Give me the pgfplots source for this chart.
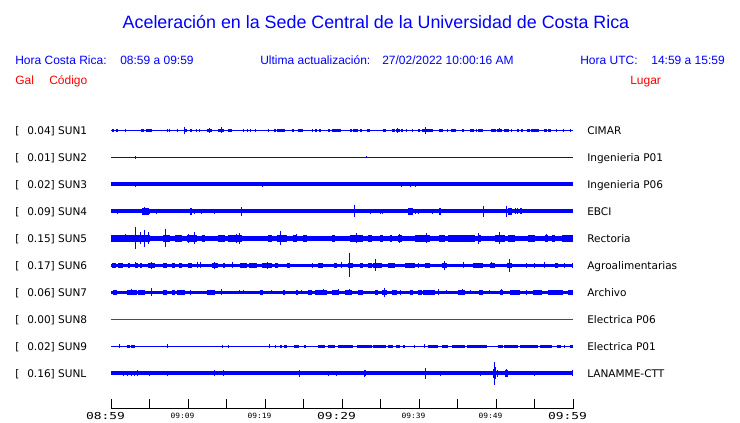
\documentclass[border=0pt]{standalone}
\usepackage{pgfplots}
\pgfplotsset{compat=1.18}
\usepackage{graphicx}
\usepackage{fontspec}
\setmainfont{Liberation Sans}
\newfontfamily\dv{DejaVu Sans}
\newfontfamily\dvm{DejaVu Sans Mono}
\definecolor{tblue}{RGB}{0,0,255}
\definecolor{tred}{RGB}{255,0,0}

\pgfplotsset{nomark/.style={only marks, mark=*, mark size=0pt, mark options={draw=none, fill=none}}}
% base band of a trace: #1 y, #2 thickness, #3 colour
\newcommand{\band}[3]{\addplot[color=#3, line width=#2, mark=none] coordinates {(0,#1) (60,#1)};}
% bursts: segments from a to b (minutes), #1 y, #2 height
\newcommand{\segs}[3]{\addplot[tblue, nomark,
  error bars/.cd, x dir=plus, x explicit, error mark=none,
  error bar style={line width=#2, solid}]
  table[x=a, y expr=#1, x error expr=\thisrow{b}-\thisrow{a}, row sep=\\] {#3};}
% spikes: time t (minutes) and half amplitude a (px), #1 y
\newcommand{\spk}[2]{\addplot[tblue, nomark,
  error bars/.cd, y dir=both, y explicit, error mark=none,
  error bar style={line width=0.75pt, solid}]
  table[x=t, y expr=#1, y error=a, row sep=\\] {#2};}

\begin{document}
\begin{tikzpicture}
\begin{axis}[
  width=555pt, height=317.25pt, scale only axis,
  xmin=-14.41558, xmax=81.68831, ymin=0, ymax=423,
  hide axis, clip=false,
]
\path (rel axis cs:0,0) rectangle (rel axis cs:1,1);

% ---------------- SUN1 ----------------
\band{292.7}{0.9pt}{tblue}
\segs{292.7}{2pt}{a b\\
0.09 0.43\\ 0.61 0.87\\ 1.82 1.99\\ 3.90 4.33\\ 4.50 5.28\\ 7.23 7.36\\ 7.58 7.71\\
8.53 8.74\\ 9.44 9.83\\ 10.26 10.48\\ 11.00 11.17\\ 11.43 11.60\\ 12.42 13.07\\
13.85 14.72\\ 15.15 15.67\\ 17.19 17.32\\ 17.62 17.84\\ 18.05 18.18\\ 18.70 18.83\\
20.35 20.43\\ 21.21 21.39\\ 21.52 22.60\\ 23.46 23.72\\ 24.24 24.94\\ 26.06 26.28\\
26.49 26.71\\ 27.06 27.23\\ 28.23 28.48\\ 28.66 29.87\\ 31.04 31.34\\ 31.47 32.12\\
32.34 32.55\\ 33.29 33.68\\ 35.28 35.71\\ 36.45 36.88\\ 37.01 37.49\\ 37.62 37.97\\
38.27 38.44\\ 39.05 39.26\\ 39.83 40.13\\ 40.35 41.86\\ 42.64 43.07\\ 43.59 43.81\\
44.16 44.81\\ 45.63 45.84\\ 46.62 47.19\\ 47.36 47.53\\ 47.71 48.27\\ 49.35 49.96\\
50.13 50.82\\ 51.08 51.69\\ 51.95 52.12\\ 52.77 52.99\\ 53.25 53.46\\ 54.03 54.42\\
54.55 55.63\\ 56.28 56.58\\ 56.80 57.10\\ 57.79 57.97\\ 58.66 58.83\\ 59.57 59.70\\}
\spk{292.7}{t a\\ 9.61 3.3\\ 12.77 2.5\\ 14.29 3.0\\ 37.23 2.5\\ 40.87 3.3\\ 50.39 2.2\\}

% ---------------- SUN2 ----------------
\band{265.7}{0.9pt}{tblue}
\spk{265.7}{t a\\ 3.16 1.3\\ 33.16 1.0\\}

% ---------------- SUN3 ----------------
\band{238.7}{3pt}{tblue}
\spk{238.7}{t a\\ 3.16 2.6\\ 19.65 2.5\\ 37.75 2.5\\ 38.96 2.5\\ 39.61 2.5\\}

% ---------------- SUN4 ----------------
\band{211.7}{2.8pt}{tblue}
\segs{211.7}{5pt}{a b\\ 4.07 4.94\\ 10.26 10.56\\ 38.61 39.26\\ 42.64 42.81\\ 51.60 52.12\\}
\spk{211.7}{t a\\
0.87 2.7\\ 4.33 3.8\\ 4.98 2.3\\ 5.93 2.3\\ 10.39 3.0\\ 10.82 2.5\\ 11.69 2.3\\
12.90 2.0\\ 13.42 2.5\\ 14.11 2.0\\ 14.81 1.8\\ 15.58 1.8\\ 16.93 4.7\\ 19.00 2.0\\
21.65 2.0\\ 22.03 2.0\\ 22.90 2.0\\ 23.59 2.0\\ 23.90 2.0\\ 31.60 5.8\\ 33.68 2.5\\
35.06 2.3\\ 35.32 2.3\\ 37.84 2.0\\ 38.83 3.5\\ 39.61 2.5\\ 39.91 2.5\\ 40.69 1.8\\
41.77 2.5\\ 42.73 3.0\\ 44.24 2.2\\ 44.46 2.2\\ 48.35 5.7\\ 51.39 5.5\\ 52.55 2.8\\
52.81 2.8\\ 53.12 2.8\\ 53.33 2.8\\ 58.44 2.0\\ 58.87 2.0\\ 59.52 2.0\\}

% ---------------- SUN5 ----------------
\band{184.7}{3.5pt}{tblue}
\segs{184.7}{5.25pt}{a b\\
0.00 2.68\\ 2.68 5.06\\ 6.80 7.66\\ 8.31 9.18\\ 9.83 11.13\\ 11.77 12.21\\
13.94 14.81\\ 15.24 16.97\\ 20.43 20.87\\ 21.52 22.81\\ 23.68 24.11\\ 24.98 25.41\\
28.66 29.09\\ 31.04 32.77\\ 33.42 33.85\\ 34.94 35.37\\ 36.23 36.45\\ 37.32 37.75\\
39.48 41.43\\ 42.64 43.38\\ 43.81 47.27\\ 47.62 48.05\\ 49.87 51.17\\ 51.60 52.47\\
54.20 55.06\\ 56.36 56.80\\ 57.23 57.66\\ 58.53 60.00\\}
\spk{184.7}{t a\\
1.82 4.0\\ 3.16 11.0\\ 3.77 6.0\\ 4.33 8.7\\ 4.85 6.0\\ 7.14 9.0\\ 10.04 4.5\\
10.82 6.0\\ 16.32 4.5\\ 16.67 5.5\\ 22.03 7.0\\ 24.11 4.0\\ 31.90 5.0\\ 37.53 4.5\\
40.91 5.0\\ 47.71 5.5\\ 50.43 6.0\\ 56.58 4.0\\}

% ---------------- SUN6 ----------------
\band{157.7}{2pt}{tblue}
\segs{157.7}{3.4pt}{a b\\
0.09 0.61\\ 0.87 1.60\\ 2.16 2.47\\ 3.12 3.46\\ 3.77 3.98\\ 4.85 5.71\\ 6.80 7.23\\
7.88 8.31\\ 8.83 9.18\\ 10.04 10.48\\ 13.07 13.94\\ 14.59 14.81\\ 16.75 17.62\\
17.92 18.92\\ 19.57 20.87\\ 21.30 21.73\\ 22.81 23.25\\ 26.06 26.28\\ 26.93 27.58\\
29.00 29.31\\ 30.74 31.47\\ 32.34 32.77\\ 33.42 33.85\\ 34.07 35.15\\ 36.02 36.88\\
38.18 39.48\\ 40.78 41.43\\ 42.94 43.59\\ 47.06 48.35\\ 49.22 49.87\\ 51.39 52.03\\
57.66 58.10\\}
\spk{157.7}{t a\\
3.20 3.0\\ 5.28 3.3\\ 11.21 3.0\\ 11.56 3.0\\ 13.42 3.5\\ 15.76 3.0\\ 20.30 3.3\\
26.15 2.5\\ 29.96 3.0\\ 30.95 12.0\\ 34.29 6.0\\ 39.91 2.5\\ 43.29 4.7\\ 45.76 3.0\\
49.44 3.0\\ 51.69 6.3\\ 53.98 2.5\\ 55.06 2.5\\ 56.36 3.0\\ 58.96 2.5\\ 59.90 2.5\\}

% ---------------- SUN7 ----------------
\band{130.7}{2pt}{tblue}
\segs{130.7}{3.5pt}{a b\\
0.30 0.74\\ 2.03 3.33\\ 3.55 4.42\\ 6.80 7.23\\ 7.88 8.31\\ 8.53 9.61\\ 12.42 13.51\\
19.35 19.78\\ 22.38 22.60\\ 23.98 24.33\\ 25.63 26.06\\ 26.49 28.01\\ 28.66 29.52\\
30.39 31.26\\ 32.12 32.77\\ 34.29 34.72\\ 35.15 35.80\\ 36.45 37.10\\ 38.83 39.26\\
39.91 40.35\\ 40.56 42.08\\ 45.02 45.97\\ 47.79 48.35\\ 50.52 50.95\\ 51.82 53.12\\
54.85 55.93\\ 56.80 58.74\\ 59.39 60.00\\}
\spk{130.7}{t a\\
0.52 2.5\\ 2.68 3.0\\ 5.28 3.8\\ 10.26 2.3\\ 14.37 3.0\\ 16.75 2.0\\ 17.19 2.0\\
20.87 2.0\\ 24.76 2.0\\ 27.58 3.0\\ 29.52 3.0\\ 30.95 3.0\\ 35.50 4.5\\ 37.66 2.3\\
42.51 3.0\\ 43.59 2.0\\ 45.63 3.0\\ 46.75 2.0\\ 49.22 2.0\\ 50.74 3.0\\ 53.98 2.5\\}

% ---------------- SUN8 ----------------
\band{103.7}{0.9pt}{tred}

% ---------------- SUN9 ----------------
\band{76.7}{0.9pt}{tblue}
\segs{76.7}{2pt}{a b\\
2.03 2.47\\ 2.60 3.12\\ 21.95 22.20\\ 22.50 22.81\\ 23.81 24.42\\ 25.11 25.28\\
26.93 27.79\\ 28.14 29.09\\ 29.52 31.47\\ 31.90 33.85\\ 34.07 35.67\\ 36.02 36.67\\
36.97 37.53\\ 37.88 38.18\\ 41.21 42.51\\ 42.94 43.81\\ 44.24 45.97\\ 46.19 48.79\\
50.22 50.95\\ 51.08 52.90\\ 53.12 55.50\\ 55.71 57.23\\ 57.88 58.44\\ 59.61 60.00\\}
\spk{76.7}{t a\\
1.08 1.8\\ 7.32 2.0\\ 14.46 1.5\\ 15.32 1.3\\ 20.52 1.8\\ 21.30 1.5\\ 39.39 1.5\\
40.69 1.8\\ 58.87 1.5\\}

% ---------------- SUNL ----------------
\band{49.7}{3pt}{tblue}
\spk{49.7}{t a\\
1.60 2.5\\ 2.12 2.7\\ 2.68 2.7\\ 3.03 2.7\\ 3.42 3.0\\ 4.98 2.7\\ 7.32 2.7\\
13.42 3.0\\ 14.59 3.0\\ 17.84 2.2\\ 24.46 3.3\\ 28.23 2.7\\ 29.31 2.3\\ 32.90 3.7\\
33.03 3.0\\ 40.78 5.7\\ 42.73 2.5\\ 48.05 2.3\\ 49.65 4.5\\ 49.78 11.7\\ 49.96 6.0\\
50.22 3.5\\ 51.17 3.3\\ 51.30 4.0\\ 51.47 3.3\\ 54.98 2.3\\ 59.95 3.0\\}

% ---------------- time axis ----------------
\draw[black, line width=0.75pt] (axis cs:0,14) -- (axis cs:60,14);
\pgfplotsinvokeforeach{0,5,...,60}{\draw[black, line width=0.75pt] (axis cs:#1,14) -- (axis cs:#1,24);}
\node[anchor=base, inner sep=0] at (axis cs:-0.71,3) {\scalebox{1.35}[1]{\fontsize{7.2pt}{8pt}\dvm 08:59}};
\node[anchor=base, inner sep=0] at (axis cs:29.29,3) {\scalebox{1.35}[1]{\fontsize{7.2pt}{8pt}\dvm 09:29}};
\node[anchor=base, inner sep=0] at (axis cs:59.29,3) {\scalebox{1.35}[1]{\fontsize{7.2pt}{8pt}\dvm 09:59}};
\node[anchor=base, inner sep=0] at (axis cs:9.29,4.7) {\scalebox{1.1}[1]{\fontsize{5.4pt}{6pt}\dvm 09:09}};
\node[anchor=base, inner sep=0] at (axis cs:19.29,4.7) {\scalebox{1.1}[1]{\fontsize{5.4pt}{6pt}\dvm 09:19}};
\node[anchor=base, inner sep=0] at (axis cs:39.29,4.7) {\scalebox{1.1}[1]{\fontsize{5.4pt}{6pt}\dvm 09:39}};
\node[anchor=base, inner sep=0] at (axis cs:49.29,4.7) {\scalebox{1.1}[1]{\fontsize{5.4pt}{6pt}\dvm 09:49}};

% ---------------- header ----------------
\node[anchor=base, inner sep=0, text=tblue, font=\fontsize{13.4pt}{16pt}\selectfont]
  at (axis cs:{(376-111)/7.7},394.5) {Aceleración en la Sede Central de la Universidad de Costa Rica};
\begin{scope}[every node/.style={inner sep=0, font=\fontsize{9pt}{11pt}\selectfont}]
\node[anchor=base west, text=tblue] at (axis cs:{(15-111)/7.7},358.6) {Hora Costa Rica:};
\node[anchor=base west, text=tblue] at (axis cs:{(120-111)/7.7},358.6) {08:59 a 09:59};
\node[anchor=base west, text=tblue] at (axis cs:{(260-111)/7.7},358.6) {Ultima actualización:};
\node[anchor=base east, text=tblue] at (axis cs:{(514-111)/7.7},358.6) {27/02/2022 10:00:16 AM};
\node[anchor=base west, text=tblue] at (axis cs:{(580-111)/7.7},358.6) {Hora UTC:};
\node[anchor=base east, text=tblue] at (axis cs:{(725-111)/7.7},358.6) {14:59 a 15:59};
\node[anchor=base west, text=tred] at (axis cs:{(15-111)/7.7},338.6) {Gal};
\node[anchor=base west, text=tred] at (axis cs:{(49-111)/7.7},338.6) {Código};
\node[anchor=base west, text=tred] at (axis cs:{(630-111)/7.7},338.6) {Lugar};
\end{scope}

% ---------------- station labels ----------------
\begin{scope}[every node/.style={inner sep=0, anchor=base west, font=\fontsize{7.9pt}{9pt}\dv}]
\pgfplotsinvokeforeach{288.8,261.8,234.8,207.8,180.8,153.8,126.8,99.8,72.8,45.8}{
  \node at (axis cs:{(15-111)/7.7},#1) {[};}
\node at (axis cs:{(27-111)/7.7},288.8) {0.04] SUN1};
\node at (axis cs:{(27-111)/7.7},261.8) {0.01] SUN2};
\node at (axis cs:{(27-111)/7.7},234.8) {0.02] SUN3};
\node at (axis cs:{(27-111)/7.7},207.8) {0.09] SUN4};
\node at (axis cs:{(27-111)/7.7},180.8) {0.15] SUN5};
\node at (axis cs:{(27-111)/7.7},153.8) {0.17] SUN6};
\node at (axis cs:{(27-111)/7.7},126.8) {0.06] SUN7};
\node at (axis cs:{(27-111)/7.7},99.8) {0.00] SUN8};
\node at (axis cs:{(27-111)/7.7},72.8) {0.02] SUN9};
\node at (axis cs:{(27-111)/7.7},45.8) {0.16] SUNL};
\node at (axis cs:{(587-111)/7.7},288.8) {CIMAR};
\node at (axis cs:{(587-111)/7.7},261.8) {Ingenieria P01};
\node at (axis cs:{(587-111)/7.7},234.8) {Ingenieria P06};
\node at (axis cs:{(587-111)/7.7},207.8) {EBCI};
\node at (axis cs:{(587-111)/7.7},180.8) {Rectoria};
\node at (axis cs:{(587-111)/7.7},153.8) {Agroalimentarias};
\node at (axis cs:{(587-111)/7.7},126.8) {Archivo};
\node at (axis cs:{(587-111)/7.7},99.8) {Electrica P06};
\node at (axis cs:{(587-111)/7.7},72.8) {Electrica P01};
\node at (axis cs:{(587-111)/7.7},45.8) {LANAMME-CTT};
\end{scope}
\end{axis}
\end{tikzpicture}
\end{document}
